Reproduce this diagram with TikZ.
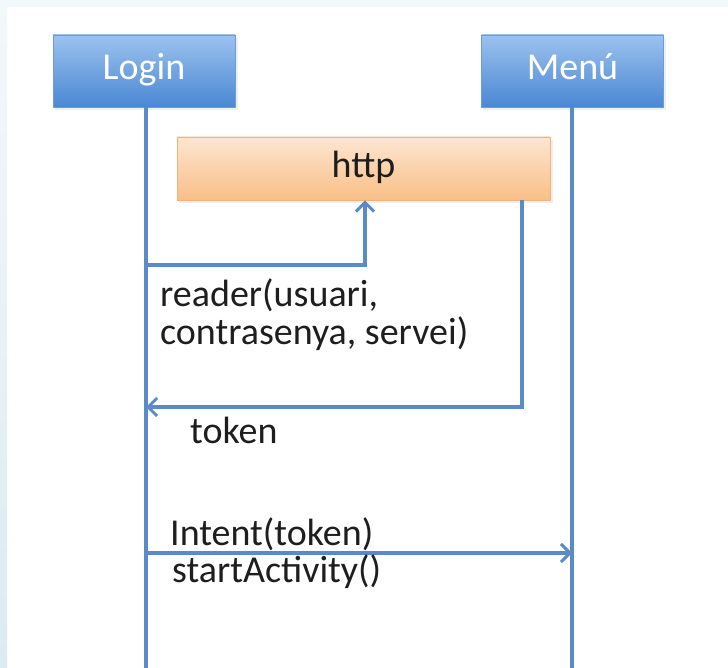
\documentclass[tikz,border=0pt]{standalone}
\usepackage{fontspec}
\setmainfont{Carlito}
\usetikzlibrary{arrows.meta}

\definecolor{lineblue}{HTML}{5B8BC6}
\definecolor{boxtop}{HTML}{9CC2EE}
\definecolor{boxbot}{HTML}{4A87D4}
\definecolor{boxedge}{HTML}{6A9BDA}
\definecolor{httptop}{HTML}{FDE6D2}
\definecolor{httpbot}{HTML}{F9BE86}
\definecolor{httpedge}{HTML}{F2B27A}
\definecolor{stripcol}{HTML}{DCEAF2}
\definecolor{stripfade}{HTML}{F3F8FA}
\definecolor{inkcol}{HTML}{1E1E1E}

\tikzset{
  actor/.style={draw=boxedge, line width=0.8pt, top color=boxtop, bottom color=boxbot,
    minimum width=182pt, minimum height=72pt, text=white, font=\fontsize{38}{40}\selectfont,
    inner sep=0pt, text height=26pt, text depth=8pt},
  service/.style={draw=httpedge, line width=0.8pt, top color=httptop, bottom color=httpbot,
    minimum width=373pt, minimum height=63pt, text=inkcol, font=\fontsize{38}{40}\selectfont,
    inner sep=0pt, text height=26pt, text depth=8pt},
  dropshadow/.style={fill=black!12, opacity=0.5},
  lifeline/.style={draw=lineblue, line width=3.2pt},
  msg/.style={draw=lineblue, line width=3.2pt, -{Straight Barb[length=9pt,width=18pt,line width=3pt]}},
  lbl/.style={anchor=west, inner sep=0pt, text=inkcol, font=\fontsize{38}{38}\selectfont, align=left}
}

\begin{document}
\begin{tikzpicture}[x=1pt,y=-1pt]
\useasboundingbox (0,0) rectangle (728,668);
% page background with a pale edge strip
\fill[white] (0,0) rectangle (728,668);
\fill[stripfade] (0,0) rectangle (728,7);
\shade[top color=stripfade, bottom color=stripcol] (0,0) rectangle (7,668);

% soft shadows behind the boxes
\fill[dropshadow] (55,38) rectangle (238,110);
\fill[dropshadow] (483,38) rectangle (666,110);
\fill[dropshadow] (179,140) rectangle (553,203);

% participants
\node[actor] (login) at (144,71) {Login};
\node[actor] (menu) at (572.5,71) {Menú};
\node[service] (http) at (363.5,168.5) {http};

% lifeline ends and message corners
\coordinate (loginEnd) at (146,668);
\coordinate (menuEnd) at (572,668);
\coordinate (reqStart) at (146,265);
\coordinate (reqCorner) at (365,265);
\coordinate (respCorner) at (522,407);
\coordinate (respEnd) at (146,407);
\coordinate (intStart) at (146,553);
\coordinate (intEnd) at (572,553);

% lifelines
\draw[lifeline] (login.south -| loginEnd) -- (loginEnd);
\draw[lifeline] (menu.south -| menuEnd) -- (menuEnd);

% messages
\draw[msg] (reqStart) -- (reqCorner) -- (reqCorner |- http.south);
\draw[msg] (respCorner |- http.south) -- (respCorner) -- (respEnd);
\draw[msg] (intStart) -- (intEnd);

% message labels
\node[lbl] (readerLbl) at (160,315) {reader(usuari,\\contrasenya, servei)};
\node[lbl] (tokenLbl) at (190,430) {token};
\node[lbl] (intentLbl) at (170,534) {Intent(token)};
\node[lbl] (startLbl) at (172,572) {startActivity()};
\end{tikzpicture}
\end{document}
